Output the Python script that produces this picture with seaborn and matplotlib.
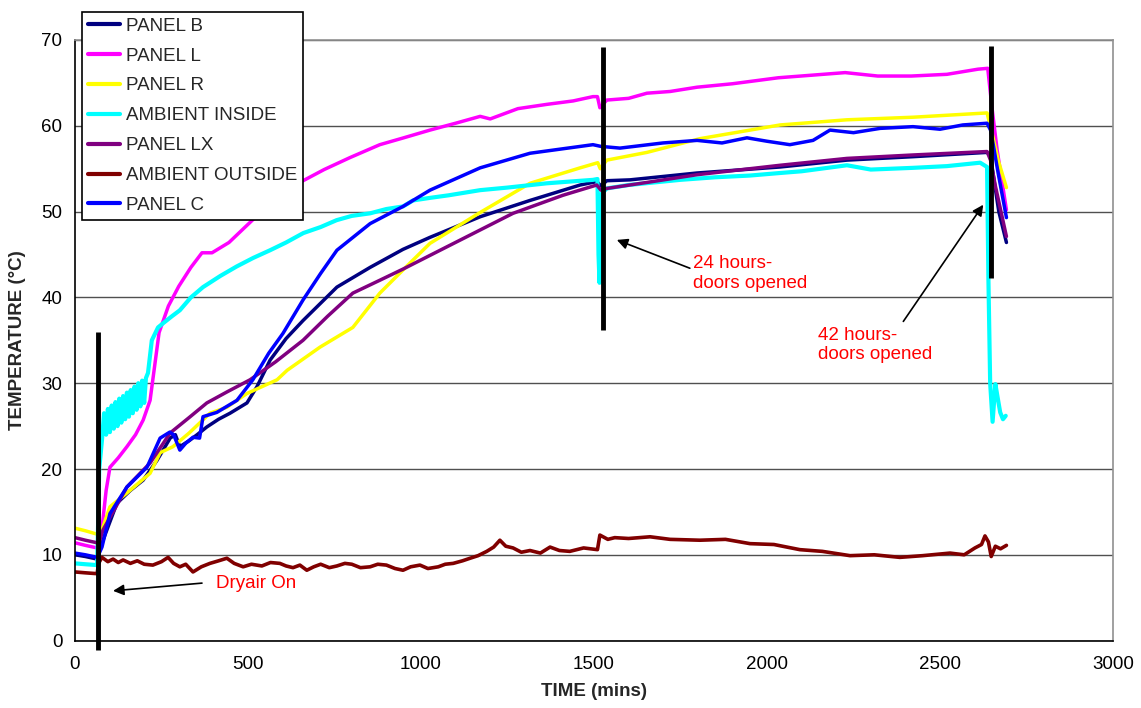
import matplotlib
matplotlib.use('Agg')
import matplotlib.pyplot as plt
import seaborn as sns

# ---- data (time in mins, temperature in deg C) ----
time_b = [0, 30, 64, 68, 81, 121, 160, 197, 237, 275, 290, 303, 330, 353, 381, 415, 448, 497, 526, 564,
          610, 659, 757, 853, 948, 1026, 1171, 1315, 1460, 1508, 1520, 1537, 1604, 1798, 2038, 2231,
          2422, 2636, 2646, 2656, 2670, 2692]
temp_b = [10.0, 9.8, 9.5, 10.5, 11.7, 16.0, 17.5, 18.7, 21.0, 23.6, 24.0, 22.6, 23.3, 24.0, 24.9, 25.8,
          26.5, 27.7, 29.6, 32.7, 35.2, 37.3, 41.2, 43.5, 45.6, 47.0, 49.4, 51.3, 53.1, 53.5, 53.0, 53.6,
          53.7, 54.5, 55.2, 56.0, 56.4, 56.9, 56.5, 53.7, 50.0, 46.4]

time_l = [0, 30, 64, 68, 78, 90, 101, 125, 150, 175, 197, 217, 243, 270, 300, 335, 367, 396, 445, 523,
          589, 650, 720, 795, 881, 950, 1026, 1100, 1171, 1200, 1280, 1364, 1440, 1497, 1510, 1517, 1537,
          1600, 1653, 1720, 1798, 1900, 2033, 2130, 2226, 2320, 2417, 2520, 2610, 2638, 2650, 2665, 2692]
temp_l = [11.4, 11.1, 10.8, 11.5, 13.1, 17.5, 20.2, 21.3, 22.6, 24.0, 25.7, 28.0, 35.9, 39.0, 41.3, 43.5,
          45.2, 45.2, 46.4, 49.4, 51.4, 53.4, 54.9, 56.3, 57.8, 58.6, 59.5, 60.3, 61.1, 60.8, 62.0, 62.5,
          62.9, 63.4, 63.4, 62.1, 63.0, 63.2, 63.8, 64.0, 64.5, 64.9, 65.6, 65.9, 66.2, 65.8, 65.8, 66.0,
          66.6, 66.7, 62.2, 57.2, 50.2]

time_r = [0, 30, 64, 68, 78, 101, 150, 217, 246, 283, 330, 390, 439, 497, 584, 613, 708, 803, 881, 968,
          1026, 1171, 1315, 1460, 1511, 1518, 1537, 1653, 1806, 2038, 2231, 2422, 2636, 2653, 2668, 2692]
temp_r = [13.1, 12.8, 12.4, 12.2, 12.9, 15.6, 17.2, 19.5, 21.9, 22.6, 24.2, 26.5, 27.2, 28.8, 30.4, 31.5,
          34.2, 36.5, 40.5, 44.0, 46.3, 49.9, 53.3, 55.1, 55.7, 55.0, 56.0, 56.9, 58.5, 60.1, 60.7, 61.0,
          61.5, 58.7, 56.0, 52.8]

time_ai = [0, 30, 64, 67, 70, 78, 84, 90, 95, 101, 106, 112, 117, 123, 128, 134, 139, 145, 150, 156, 161,
           167, 172, 178, 183, 189, 194, 200, 205, 211, 222, 240, 255, 280, 303, 335, 370, 420, 467, 515,
           564, 610, 660, 710, 756, 800, 853, 900, 948, 977, 1026, 1080, 1171, 1250, 1364, 1430, 1497,
           1510, 1513, 1516, 1520, 1537, 1600, 1749, 1850, 1950, 2038, 2100, 2231, 2300, 2422, 2520,
           2616, 2636, 2640, 2645, 2652, 2660, 2668, 2674, 2682, 2690]
temp_ai = [9.0, 8.9, 8.8, 14.0, 20.0, 23.4, 26.5, 24.0, 27.0, 24.3, 27.4, 24.7, 27.8, 25.0, 28.2, 25.4,
           28.5, 25.8, 28.9, 26.1, 29.2, 26.5, 29.6, 26.9, 30.0, 27.3, 30.3, 27.7, 30.6, 31.2, 35.0, 36.5,
           37.0, 37.8, 38.5, 40.0, 41.2, 42.5, 43.6, 44.6, 45.5, 46.4, 47.5, 48.2, 49.0, 49.5, 49.8, 50.3,
           50.6, 51.3, 51.6, 51.9, 52.5, 52.8, 53.3, 53.5, 53.7, 53.8, 45.0, 41.7, 52.0, 52.7, 53.1, 53.7,
           54.0, 54.2, 54.5, 54.7, 55.4, 54.9, 55.1, 55.3, 55.7, 55.2, 42.0, 30.0, 25.5, 29.9, 28.0, 26.6,
           25.8, 26.2]

time_lx = [0, 30, 64, 68, 81, 150, 217, 275, 330, 381, 440, 506, 580, 659, 730, 803, 881, 948, 1075,
           1266, 1410, 1508, 1520, 1537, 1653, 1798, 2038, 2231, 2422, 2636, 2646, 2660, 2673, 2692]
temp_lx = [12.0, 11.7, 11.4, 11.2, 12.9, 17.9, 20.7, 24.2, 26.0, 27.7, 29.0, 30.4, 32.5, 35.0, 37.8,
           40.5, 42.0, 43.3, 45.9, 49.8, 51.9, 53.1, 52.5, 52.7, 53.4, 54.3, 55.4, 56.2, 56.6, 57.0, 56.0,
           53.0, 50.6, 47.1]

time_ao = [0, 30, 64, 68, 78, 95, 110, 125, 139, 160, 180, 200, 225, 250, 269, 285, 303, 320, 341, 365,
           390, 415, 439, 460, 486, 510, 540, 565, 592, 610, 630, 650, 670, 690, 710, 735, 757, 780, 800,
           825, 853, 875, 900, 925, 948, 970, 997, 1020, 1050, 1070, 1093, 1120, 1142, 1165, 1190, 1210,
           1228, 1245, 1266, 1290, 1315, 1345, 1373, 1400, 1430, 1470, 1510, 1517, 1540, 1560, 1600,
           1662, 1720, 1806, 1880, 1951, 2020, 2095, 2160, 2240, 2310, 2384, 2450, 2529, 2570, 2601,
           2620, 2630, 2640, 2648, 2660, 2675, 2692]
temp_ao = [8.0, 7.9, 7.8, 9.0, 9.7, 9.2, 9.5, 9.1, 9.4, 9.0, 9.3, 8.9, 8.8, 9.2, 9.7, 9.0, 8.6, 8.9, 8.0,
           8.6, 9.0, 9.3, 9.6, 9.0, 8.6, 8.9, 8.7, 9.1, 9.0, 8.7, 8.5, 8.8, 8.2, 8.6, 8.9, 8.5, 8.7, 9.0,
           8.9, 8.5, 8.6, 8.9, 8.8, 8.4, 8.2, 8.6, 8.8, 8.4, 8.6, 8.9, 9.0, 9.3, 9.6, 9.9, 10.4, 10.9,
           11.7, 11.0, 10.8, 10.3, 10.5, 10.2, 10.9, 10.5, 10.4, 10.8, 10.6, 12.3, 11.8, 12.0, 11.9, 12.1,
           11.8, 11.7, 11.8, 11.3, 11.2, 10.6, 10.4, 9.9, 10.0, 9.7, 9.9, 10.2, 10.0, 10.8, 11.2, 12.2,
           11.5, 9.8, 11.0, 10.7, 11.1]

time_c = [0, 30, 64, 68, 78, 101, 150, 208, 246, 274, 285, 303, 320, 341, 360, 370, 410, 468, 514, 560,
          601, 659, 710, 757, 853, 948, 1026, 1171, 1315, 1497, 1520, 1575, 1699, 1798, 1870, 1942, 2000,
          2066, 2133, 2182, 2250, 2327, 2422, 2500, 2566, 2636, 2646, 2653, 2668, 2692]
temp_c = [10.2, 10.0, 9.7, 10.0, 10.9, 14.8, 17.9, 20.2, 23.6, 24.3, 24.0, 22.2, 23.0, 23.7, 23.6, 26.1,
          26.6, 28.0, 30.4, 33.5, 35.8, 39.7, 42.8, 45.5, 48.6, 50.6, 52.5, 55.1, 56.8, 57.8, 57.6, 57.4,
          58.0, 58.3, 58.0, 58.6, 58.2, 57.8, 58.3, 59.5, 59.2, 59.7, 59.9, 59.6, 60.1, 60.3, 59.5, 58.0,
          54.5, 49.3]

labels = ['PANEL B', 'PANEL L', 'PANEL R', 'AMBIENT INSIDE', 'PANEL LX', 'AMBIENT OUTSIDE', 'PANEL C']
colors = ['#000080', '#FF00FF', '#FFFF00', '#00FFFF', '#800080', '#800000', '#0000FF']
widths = [2.5, 2.5, 2.5, 3.0, 2.5, 2.6, 2.5]
times = [time_b, time_l, time_r, time_ai, time_lx, time_ao, time_c]
temps = [temp_b, temp_l, temp_r, temp_ai, temp_lx, temp_ao, temp_c]

# event markers (vertical black bars)
event_times = [66, 1526, 2646]
event_bottom = [-1.1, 36.2, 42.3]
event_top = [36.0, 69.2, 69.3]

sns.set_theme(style='white')
plt.rcParams['font.family'] = ['Liberation Sans', 'DejaVu Sans']

W, H = 1141, 708
fig = plt.figure(figsize=(W / 100, H / 100), dpi=100)
ax = fig.add_axes([75 / W, 1 - 640.6 / H, (1113 - 75) / W, (640.6 - 40) / H])

for lab, xs, ys, col, lw in zip(labels, times, temps, colors, widths):
    sns.lineplot(x=xs, y=ys, color=col, lw=lw, label=lab, ax=ax, sort=False, estimator=None)

ax.vlines(event_times, event_bottom, event_top, colors='black', lw=3.5, zorder=4, clip_on=False)

ax.set_xlim(0, 3000)
ax.set_ylim(0, 70)
ax.set_xticks(range(0, 3001, 500))
ax.set_yticks(range(0, 71, 10))
ax.yaxis.grid(True, color='#505050', lw=1)
ax.xaxis.grid(False)
ax.set_axisbelow(True)
ax.tick_params(axis='both', direction='out', length=5, width=1, color='#606060',
               labelsize=13.5, labelcolor='black', pad=4)
ax.tick_params(axis='x', pad=6)
for side in ['left', 'bottom']:
    ax.spines[side].set_color('black')
    ax.spines[side].set_linewidth(1.2)
for side in ['top', 'right']:
    ax.spines[side].set_color('#909090')
    ax.spines[side].set_linewidth(1.2)

ax.set_xlabel('TIME (mins)', fontsize=13.5, fontweight='bold', labelpad=7)
ax.set_ylabel('TEMPERATURE (°C)', fontsize=13.5, fontweight='bold', labelpad=11)

# annotations
arrow = dict(arrowstyle='-|>', color='black', lw=1.2, mutation_scale=16, shrinkA=0, shrinkB=0)
ax.annotate('', xy=(110, 5.8), xytext=(367, 6.7), arrowprops=arrow)
ax.text(407, 6.7, 'Dryair On', color='red', fontsize=13.5, ha='left', va='center')
ax.annotate('', xy=(1566, 46.7), xytext=(1777, 43.4), arrowprops=arrow)
ax.text(1787, 42.8, '24 hours-\ndoors opened', color='red', fontsize=13.5, ha='left', va='center',
        linespacing=1.2)
ax.annotate('', xy=(2625, 50.8), xytext=(2394, 37.2), arrowprops=arrow)
ax.text(2148, 34.45, '42 hours-\ndoors opened', color='red', fontsize=13.5, ha='left', va='center',
        linespacing=1.2)

handles, labs = ax.get_legend_handles_labels()
leg = ax.legend(handles, labs, loc='upper left', bbox_to_anchor=(82 / W, 1 - 12 / H),
                bbox_transform=fig.transFigure, frameon=True, fancybox=False, edgecolor='black',
                framealpha=1, fontsize=13.5, handlelength=1.75, handletextpad=0.3,
                labelspacing=0.68, borderpad=0.3, borderaxespad=0)
leg.get_frame().set_linewidth(1.2)
for line in leg.get_lines():
    line.set_linewidth(3)

fig.savefig('out.png', dpi=100)
